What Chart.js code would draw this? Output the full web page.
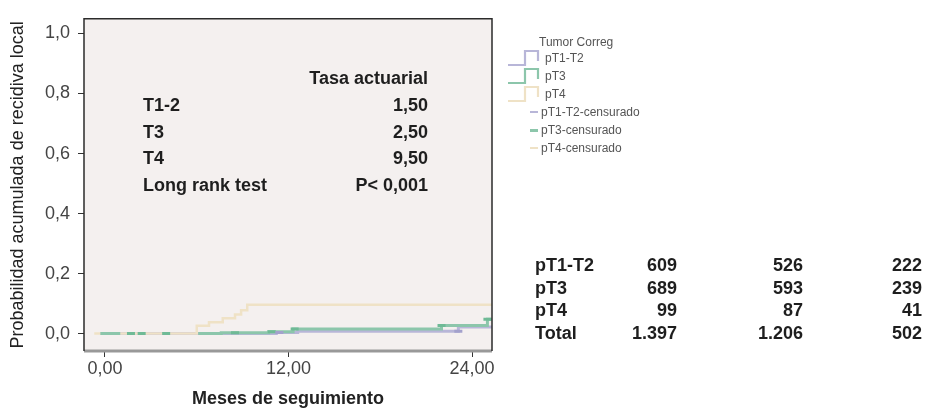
<!DOCTYPE html>
<html>
<head>
<meta charset="utf-8">
<script src="https://cdn.jsdelivr.net/npm/chart.js@4/dist/chart.umd.min.js"></script>
<style>
  body { margin: 0; background: #fff; }
  #wrap { position: relative; width: 928px; height: 410px; font-family: "Liberation Sans", Arial, Helvetica, sans-serif; }
  #km { position: absolute; left: 0; top: 0; }
  .t { position: absolute; white-space: nowrap; }
  .b { font-weight: bold; font-size: 18px; line-height: 20px; color: #1e1e1e; }
  .lg { font-size: 12px; line-height: 14px; color: #555; }
</style>
</head>
<body>
<div id="wrap">
  <canvas id="km" width="928" height="410"></canvas>
</div>
<script>
// curvas de incidencia acumulada (meses, probabilidad)
var monthsT12 = [-0.3, 11.2, 12.6, 23.1, 25.3];
var probT12   = [0, 0.004, 0.0075, 0.022, 0.022];

var monthsT3 = [-0.3, 1.0, 3.5, 6.1, 7.6, 10.7, 12.3, 22.0, 25.0, 25.3];
var probT3   = [0, 0, null, 0, 0.003, 0.006, 0.015, 0.027, 0.048, 0.048];

var monthsT4 = [-0.7, 6.0, 6.8, 7.7, 8.5, 8.9, 9.3, 25.3];
var probT4   = [0, 0.026, 0.038, 0.051, 0.064, 0.078, 0.096, 0.096];

// censurados
var censMonthsT12 = [11.4, 23.1];
var censProbT12   = [0.004, 0.0075];
var censMonthsT3 = [1.7, 2.4, 4.0, 8.5, 10.9, 12.4, 22.0, 25.0];
var censProbT3   = [0, 0, 0, 0.003, 0.006, 0.015, 0.027, 0.048];
var censMonthsT4 = [];
var censProbT4   = [];

var xTicks = [0, 12, 24];
var yTicks = [0, 0.2, 0.4, 0.6, 0.8, 1.0];

// tabla de pacientes en riesgo
var riskLabels = ['pT1-T2', 'pT3', 'pT4', 'Total'];
var risk0  = ['609', '689', '99', '1.397'];
var risk12 = ['526', '593', '87', '1.206'];
var risk24 = ['222', '239', '41', '502'];

// tasa actuarial
var rateLabels = ['T1-2', 'T3', 'T4', 'Long rank test'];
var rateValues = ['1,50', '2,50', '9,50', 'P< 0,001'];

var COL_T12 = '#b8b6d8', COL_T3 = '#8cc6ab', COL_T4 = '#efe2c6';

var pts = function (xs, ys) {
    return xs.map(function (x, i) { return {x: x, y: ys[i]}; });
};

var wrap = document.getElementById('wrap');
var addText = function (cls, txt, left, top, align) {
    var d = document.createElement('div');
    d.className = 't ' + cls;
    d.textContent = txt;
    d.style.top = top + 'px';
    if (align === 'right') {
        d.style.right = (928 - left) + 'px';
    } else {
        d.style.left = left + 'px';
    }
    wrap.appendChild(d);
};

// texto dentro del grafico
addText('b', 'Tasa actuarial', 428, 68, 'right');
rateLabels.forEach(function (lab, i) {
    addText('b', lab, 143, 95 + i * 26.7);
    addText('b', rateValues[i], 428, 95 + i * 26.7, 'right');
});

// tabla
riskLabels.forEach(function (lab, i) {
    var top = 255 + i * 22.7;
    addText('b', lab, 535, top);
    addText('b', risk0[i], 677, top, 'right');
    addText('b', risk12[i], 803, top, 'right');
    addText('b', risk24[i], 922, top, 'right');
});

// leyenda
addText('lg', 'Tumor Correg', 539, 35);
var stepItems = [['pT1-T2', COL_T12], ['pT3', COL_T3], ['pT4', COL_T4]];
stepItems.forEach(function (it, i) {
    var cy = 58 + i * 18;
    var svg = document.createElementNS('http://www.w3.org/2000/svg', 'svg');
    svg.setAttribute('width', '40');
    svg.setAttribute('height', '20');
    svg.style.position = 'absolute';
    svg.style.left = '506px';
    svg.style.top = (cy - 10) + 'px';
    var p = document.createElementNS('http://www.w3.org/2000/svg', 'path');
    p.setAttribute('d', 'M2 17 H19 V3 H32 V13');
    p.setAttribute('fill', 'none');
    p.setAttribute('stroke', it[1]);
    p.setAttribute('stroke-width', '2.2');
    svg.appendChild(p);
    wrap.appendChild(svg);
    addText('lg', it[0], 545, cy - 7);
});
var censItems = [['pT1-T2-censurado', COL_T12, 1.5], ['pT3-censurado', COL_T3, 3], ['pT4-censurado', COL_T4, 1.5]];
censItems.forEach(function (it, i) {
    var cy = 112 + i * 18;
    var s = document.createElement('div');
    s.style.cssText = 'position:absolute;left:530px;width:8px;top:' + (cy - it[2] / 2) + 'px;height:' + it[2] + 'px;background:' + it[1];
    wrap.appendChild(s);
    addText('lg', it[0], 541, cy - 7);
});

var frame = {
    id: 'frame',
    beforeDraw: function (chart) {
        var a = chart.chartArea, c = chart.ctx;
        c.save();
        c.fillStyle = '#f4f0ef';
        c.fillRect(a.left, a.top, a.right - a.left, a.bottom - a.top);
        c.restore();
    },
    afterDraw: function (chart) {
        var a = chart.chartArea, c = chart.ctx;
        c.save();
        c.strokeStyle = '#999';
        c.lineWidth = 3;
        c.beginPath();
        c.moveTo(a.left, a.bottom);
        c.lineTo(a.right, a.bottom);
        c.stroke();
        c.strokeStyle = '#2b2b2b';
        c.lineWidth = 1.5;
        c.beginPath();
        c.moveTo(a.left, a.bottom);
        c.lineTo(a.left, a.top);
        c.lineTo(a.right, a.top);
        c.lineTo(a.right, a.bottom);
        c.stroke();
        c.restore();
    }
};

var tickFont = {family: '"Liberation Sans", Arial, sans-serif', size: 18};

// el primer dataset se dibuja encima
new Chart(document.getElementById('km'), {
    type: 'line',
    data: {
        datasets: [
            {label: 'pT1-T2-censurado', data: pts(censMonthsT12, censProbT12), showLine: false,
                pointStyle: 'line', pointRadius: 4, pointBorderWidth: 3, borderColor: '#a3a1cc'},
            {label: 'pT3-censurado', data: pts(censMonthsT3, censProbT3), showLine: false,
                pointStyle: 'line', pointRadius: 4, pointBorderWidth: 3, borderColor: '#6fba96'},
            {label: 'pT4-censurado', data: pts(censMonthsT4, censProbT4), showLine: false,
                pointStyle: 'line', pointRadius: 4, pointBorderWidth: 3, borderColor: COL_T4},
            {label: 'pT3', data: pts(monthsT3, probT3), stepped: true, borderColor: COL_T3,
                borderWidth: 3, pointRadius: 0, fill: false, spanGaps: false},
            {label: 'pT4', data: pts(monthsT4, probT4), stepped: true, borderColor: COL_T4,
                borderWidth: 2.5, pointRadius: 0, fill: false},
            {label: 'pT1-T2', data: pts(monthsT12, probT12), stepped: true, borderColor: COL_T12,
                borderWidth: 3, pointRadius: 0, fill: false}
        ]
    },
    options: {
        responsive: false,
        animation: false,
        layout: {padding: {top: 10, right: 436, left: 0, bottom: 0}},
        plugins: {legend: {display: false}, tooltip: {enabled: false}},
        scales: {
            x: {
                type: 'linear', min: -1.37, max: 25.3,
                afterBuildTicks: function (s) { s.ticks = xTicks.map(function (v) { return {value: v}; }); },
                afterFit: function (s) { s.height = 59; },
                ticks: {font: tickFont, color: '#444', padding: 1,
                    callback: function (v) { return v.toFixed(2).replace('.', ','); }},
                grid: {drawOnChartArea: false, tickLength: 6, color: '#333'},
                border: {display: false},
                title: {display: true, text: 'Meses de seguimiento', color: '#222',
                    font: {family: tickFont.family, size: 18, weight: 'bold'}, padding: {top: 2, bottom: 0}}
            },
            y: {
                min: -0.058, max: 1.049,
                afterBuildTicks: function (s) { s.ticks = yTicks.map(function (v) { return {value: v}; }); },
                afterFit: function (s) { s.width = 84; },
                ticks: {font: tickFont, color: '#444', padding: 8,
                    callback: function (v) { return v.toFixed(1).replace('.', ','); }},
                grid: {drawOnChartArea: false, tickLength: 6, color: '#333'},
                border: {display: false},
                title: {display: true, text: 'Probabilidad acumulada de recidiva local', color: '#222',
                    font: {family: tickFont.family, size: 18}, padding: {top: 7, bottom: 0}}
            }
        }
    },
    plugins: [frame]
});
</script>
</body>
</html>
